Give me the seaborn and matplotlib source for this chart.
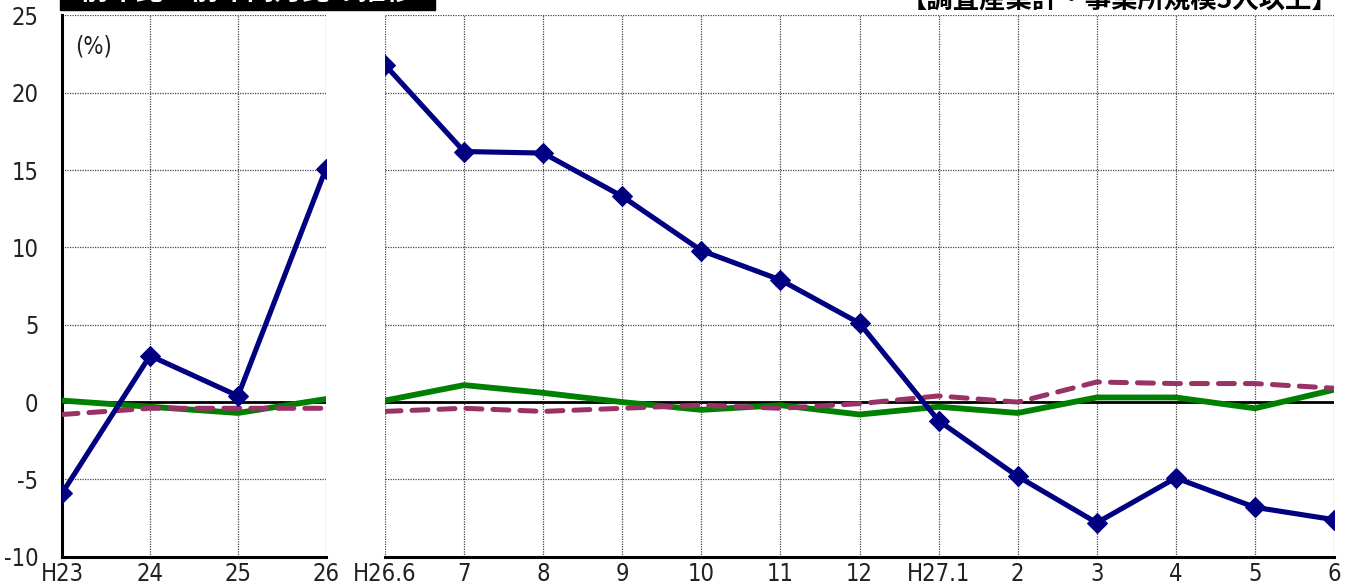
import numpy as np
import pandas as pd
import matplotlib
matplotlib.use("Agg")
import matplotlib.pyplot as plt
import seaborn as sns

# ---- data ----
year_labels = ["H23", "24", "25", "26"]
year_blue = [-5.9, 3.0, 0.4, 15.1]
year_green = [0.1, -0.3, -0.7, 0.2]
year_purple = [-0.8, -0.4, -0.4, -0.4]

month_labels = ["H26.6", "7", "8", "9", "10", "11", "12", "H27.1", "2", "3", "4", "5", "6"]
month_blue = [21.8, 16.2, 16.1, 13.3, 9.8, 7.9, 5.1, -1.2, -4.8, -7.8, -4.9, -6.8, -7.6]
month_green = [0.1, 1.1, 0.6, 0.0, -0.5, -0.2, -0.8, -0.3, -0.7, 0.3, 0.3, -0.4, 0.8]
month_purple = [-0.6, -0.4, -0.6, -0.4, -0.2, -0.4, -0.1, 0.4, 0.0, 1.3, 1.2, 1.2, 0.9]

y_ticks = [-10, -5, 0, 5, 10, 15, 20, 25]

sns.set_style("white")
plt.rcParams["font.family"] = ["DejaVu Sans", "Noto Sans CJK JP"]
plt.rcParams["font.stretch"] = "condensed"
plt.rcParams["axes.unicode_minus"] = False

fig = plt.figure(figsize=(13.51, 5.84), dpi=100)
ax1 = fig.add_axes([62 / 1351, 1 - 556.8 / 584, 264 / 1351, 541.4 / 584])
ax2 = fig.add_axes([385 / 1351, 1 - 556.8 / 584, 949 / 1351, 541.4 / 584])

BLUE = "#000080"
GREEN = "#008000"
PURPLE = "#993366"


def draw(ax, labels, blue, green, purple):
    df = pd.DataFrame({"x": np.arange(len(labels)), "blue": blue,
                       "green": green, "purple": purple})
    ax.axhline(0, color="black", lw=2, zorder=2)
    sns.lineplot(data=df, x="x", y="green", ax=ax, color=GREEN, lw=4.2, zorder=3)
    l = sns.lineplot(data=df, x="x", y="purple", ax=ax, color=PURPLE, lw=3.6, zorder=3)
    l.lines[-1].set_dashes([3.2, 2.2])
    l.lines[-1].set_dash_capstyle("round")
    sns.lineplot(data=df, x="x", y="blue", ax=ax, color=BLUE, lw=3.7, marker="D",
                 markersize=10, markeredgecolor=BLUE, zorder=4)
    ax.set_xlim(0, len(labels) - 1)
    ax.set_ylim(-10, 25)
    ax.set_xticks(df["x"])
    ax.set_xticklabels(labels)
    ax.set_yticks(y_ticks)
    ax.set_xlabel("")
    ax.set_ylabel("")
    ax.grid(True, color="#444444", ls=(0, (1, 1)), lw=0.9)
    for s in ["top", "right"]:
        ax.spines[s].set_visible(False)
    ax.spines["bottom"].set_linewidth(2.2)
    ax.spines["bottom"].set_color("black")
    ax.tick_params(axis="x", direction="in", length=5, width=2, labelsize=17,
                   pad=4, colors="black", labelcolor="#222222")
    ax.patch.set_visible(False)


draw(ax1, year_labels, year_blue, year_green, year_purple)
draw(ax2, month_labels, month_blue, month_green, month_purple)

ax1.spines["left"].set_linewidth(2.2)
ax1.spines["left"].set_color("black")
ax1.tick_params(axis="y", direction="in", length=5, width=2, labelsize=17,
                pad=17, colors="black", labelcolor="#222222")
ax2.spines["left"].set_visible(False)
ax2.tick_params(axis="y", left=False, labelleft=False)

ax1.text(0.05, 0.965, "(%)", transform=ax1.transAxes, fontsize=17,
         color="#222222", va="top", ha="left")

# partially visible headings at the top edge
fig.patches.append(plt.Rectangle((60 / 1351, 1 - 10 / 584), 375 / 1351, 0.05,
                                 transform=fig.transFigure, color="black",
                                 zorder=0))
fig.text(247 / 1351, 1 + 8 / 584, "前年比・前年同月比の推移", color="white",
         fontsize=20, fontweight="bold", ha="center", va="center",
         family=["Noto Sans CJK JP", "DejaVu Sans"])
fig.text(1338 / 1351, 1 - 14 / 584, "【調査産業計・事業所規模5人以上】", color="black",
         fontsize=19, fontweight="bold", ha="right", va="bottom",
         family=["Noto Sans CJK JP", "DejaVu Sans"])

fig.savefig("out.png", dpi=100)
